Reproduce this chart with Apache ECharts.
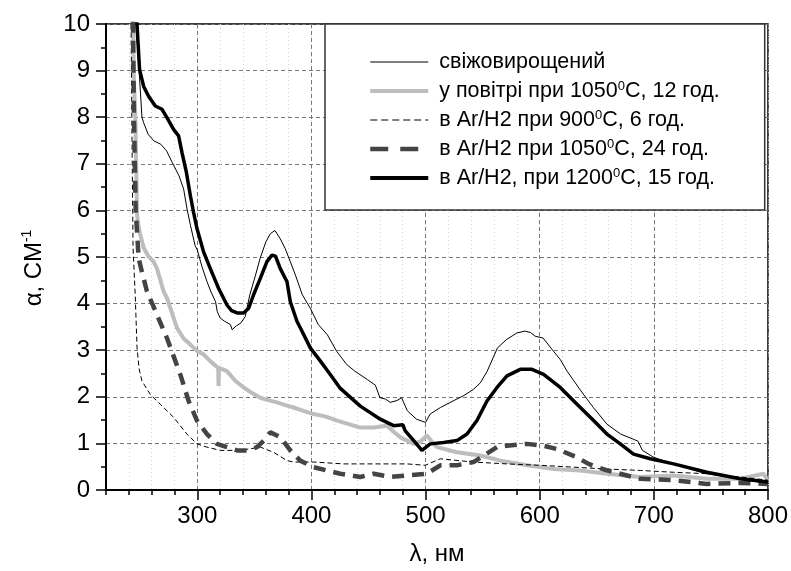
<!DOCTYPE html>
<html>
<head>
<meta charset="utf-8">
<script src="https://cdn.jsdelivr.net/npm/echarts@6/dist/echarts.min.js"></script>
<style>
html,body{margin:0;padding:0;background:#fff;}
#chart{width:791px;height:571px;}
</style>
</head>
<body>
<div id="chart"></div>
<script>
// ---- data ----
const seriesNames = [
  'свіжовирощений',
  'у повітрі при 1050°C, 12 год.',
  'в Ar/H2 при 900°C, 6 год.',
  'в Ar/H2 при 1050°C, 24 год.',
  'в Ar/H2, при 1200°C, 15 год.'
];
const legendRich = [
  '{g|}{t|свіжовирощений}',
  '{g|}{t|у повітрі при 1050}{s|0}{t|C, 12 год.}',
  '{g|}{t|в Ar/H2 при 900}{s|0}{t|C, 6 год.}',
  '{g|}{t|в Ar/H2 при 1050}{s|0}{t|C, 24 год.}',
  '{g|}{t|в Ar/H2, при 1200}{s|0}{t|C, 15 год.}'
];
const xMajorTicks = [300, 400, 500, 600, 700, 800];

const freshX = [245, 249, 251.5, 253, 257, 262, 268, 273, 278, 284, 288, 291, 294, 298, 300, 304, 308.5, 312, 316, 317.5, 320, 324, 329, 330.5, 334, 338, 342, 346, 351, 355, 360, 364, 368, 372.7, 377, 381.5, 386, 392, 399, 406, 414, 422, 431, 438, 449, 456, 460, 465, 469, 475, 479, 484, 492, 500, 504, 513, 524, 533, 542, 548, 554, 563, 571, 580, 587, 592, 596, 603, 612, 618, 624, 636, 647, 659, 671, 682, 686, 690, 700, 717, 732, 746, 760, 776, 790, 800];
const freshY = [10.5, 9.0, 8.0, 7.88, 7.63, 7.49, 7.42, 7.28, 7.03, 6.74, 6.46, 6.03, 5.68, 5.25, 5.15, 4.8, 4.47, 4.25, 4.04, 3.83, 3.69, 3.62, 3.55, 3.44, 3.52, 3.58, 3.72, 4.19, 4.61, 4.97, 5.32, 5.5, 5.57, 5.39, 5.18, 4.9, 4.61, 4.19, 3.9, 3.55, 3.33, 2.98, 2.69, 2.55, 2.37, 2.25, 1.98, 1.95, 1.88, 1.92, 1.98, 1.70, 1.52, 1.45, 1.63, 1.77, 1.91, 2.02, 2.16, 2.3, 2.55, 3.05, 3.23, 3.37, 3.41, 3.38, 3.30, 3.26, 2.98, 2.8, 2.55, 2.13, 1.77, 1.41, 1.2, 1.09, 1.05, 0.85, 0.7, 0.56, 0.45, 0.35, 0.3, 0.24, 0.18, 0.13];

const airX = [243.8, 244.2, 245.7, 246.5, 247.2, 249.4, 253, 257, 261.7, 264.7, 270.5, 273.4, 282.2, 288, 293.9, 300, 305.5, 312, 318.3, 318.6, 319, 326, 333, 340.6, 348, 355.2, 362, 369.8, 377, 384.4, 393, 401.9, 412, 422.4, 432, 442.8, 454.5, 466.2, 472, 478, 489.5, 496, 501.2, 505, 510, 527.5, 548, 565.5, 588.8, 612.2, 635.5, 658.9, 688.1, 717.3, 746.5, 775.7, 796.1, 800];
const airY = [10.5, 9.0, 7.95, 6.89, 5.89, 5.54, 5.2, 5.02, 4.90, 4.75, 4.26, 4.12, 3.48, 3.25, 3.12, 2.98, 2.91, 2.75, 2.62, 2.23, 2.62, 2.55, 2.35, 2.20, 2.08, 1.98, 1.93, 1.88, 1.82, 1.77, 1.70, 1.63, 1.58, 1.49, 1.42, 1.34, 1.34, 1.38, 1.25, 1.13, 0.99, 1.05, 1.17, 1.05, 0.92, 0.81, 0.74, 0.63, 0.53, 0.45, 0.42, 0.35, 0.28, 0.31, 0.24, 0.24, 0.35, 0.2];

const ar900X = [241.8, 242.8, 243.7, 245.7, 247.2, 249, 251.5, 258.8, 267.6, 279.2, 290.9, 299.7, 308.5, 320.1, 337.7, 355.2, 366.8, 378.6, 384.4, 401.9, 428.2, 454.5, 483.7, 499.7, 512.9, 542, 571.3, 600.5, 629.7, 658.9, 688.1, 717.3, 746.5, 775.7, 800];
const ar900Y = [10.5, 7.5, 5.2, 4.12, 3.05, 2.6, 2.34, 2.05, 1.84, 1.56, 1.20, 0.99, 0.92, 0.85, 0.85, 0.92, 0.81, 0.63, 0.6, 0.6, 0.56, 0.56, 0.56, 0.53, 0.67, 0.60, 0.56, 0.53, 0.49, 0.45, 0.42, 0.38, 0.35, 0.28, 0.21];

const ar1050X = [243.5, 244.5, 246, 248.6, 251.5, 255.9, 264.7, 273.4, 285.1, 292.4, 299.7, 308.5, 317.2, 326, 334.8, 343.6, 352.3, 359.6, 364, 372.7, 381.5, 390.2, 401.9, 425.3, 442.8, 454.5, 469.1, 483.7, 501.2, 512.9, 527.5, 542, 562.6, 571.3, 588.8, 603.4, 615.1, 632.7, 642.8, 658.9, 688.1, 717.3, 746.5, 775.7, 800];
const ar1050Y = [10.5, 8, 6, 4.97, 4.68, 4.26, 3.76, 3.26, 2.48, 1.91, 1.49, 1.20, 0.99, 0.92, 0.85, 0.85, 0.92, 1.09, 1.24, 1.13, 0.85, 0.63, 0.49, 0.35, 0.28, 0.35, 0.28, 0.31, 0.35, 0.53, 0.53, 0.6, 0.92, 0.95, 0.99, 0.95, 0.88, 0.70, 0.56, 0.42, 0.24, 0.21, 0.13, 0.15, 0.13];

const ar1200X = [246, 249.4, 253, 257.3, 263.2, 269.1, 273.4, 279.2, 283.6, 286.6, 290.4, 293.9, 296.7, 299.7, 305.5, 311.4, 318.6, 326, 330, 334.8, 340.6, 345, 349.3, 355.2, 361, 365.4, 368.5, 372.7, 378.6, 381.5, 387.3, 390.2, 399, 407.7, 416.5, 425.3, 442.8, 460.3, 472, 480, 482.2, 490, 496.8, 504.1, 515.8, 527.5, 536.3, 545, 553.8, 562.6, 571.3, 583, 593.2, 603.4, 618, 632.7, 647.2, 658.9, 670.6, 682.2, 696.9, 717.3, 746.5, 775.7, 800];
const ar1200Y = [10.5, 9.02, 8.66, 8.45, 8.24, 8.17, 7.99, 7.74, 7.60, 7.24, 6.82, 6.32, 5.96, 5.61, 5.11, 4.75, 4.33, 3.97, 3.85, 3.80, 3.80, 3.90, 4.19, 4.54, 4.90, 5.04, 5.02, 4.75, 4.47, 4.04, 3.62, 3.48, 3.05, 2.77, 2.48, 2.18, 1.80, 1.52, 1.38, 1.40, 1.27, 1.05, 0.85, 0.99, 1.02, 1.06, 1.20, 1.49, 1.91, 2.20, 2.45, 2.59, 2.59, 2.48, 2.20, 1.84, 1.49, 1.20, 0.99, 0.77, 0.67, 0.56, 0.38, 0.24, 0.17];

function pairs(xs, ys) { return xs.map((x, i) => [x, ys[i]]); }

const FONT = "'Liberation Sans', Arial, sans-serif";
const styles = [
  {color: '#000', width: 1, type: 'solid'},
  {color: '#bdbdbd', width: 4, type: 'solid'},
  {color: '#000', width: 1, type: [5, 3]},
  {color: '#444', width: 4.5, type: [12, 8]},
  {color: '#000', width: 3.5, type: 'solid'}
];
const legendTypes = ['solid', 'solid', [7, 4], [18, 12], 'solid'];
const legendWidths = [1, 4, 1, 4.5, 4];

const chart = echarts.init(document.getElementById('chart'), null, {renderer: 'canvas'});

const option = {
  backgroundColor: '#fff',
  animation: false,
  textStyle: {fontFamily: FONT},
  grid: {left: 106, right: 23, top: 24, bottom: 78, show: true, borderColor: '#000', borderWidth: 1.5, backgroundColor: 'transparent'},
  legend: {
    orient: 'vertical',
    left: 325, top: 24,
    padding: [27, 45, 21, 43],
    itemGap: 7,
    itemWidth: 58, itemHeight: 16,
    backgroundColor: '#fff',
    borderColor: '#333', borderWidth: 1.5,
    itemStyle: {opacity: 0},
    data: seriesNames.map((n, i) => ({
      name: n,
      itemStyle: {opacity: 0},
      lineStyle: {width: legendWidths[i], type: legendTypes[i], color: styles[i].color}
    })),
    formatter: function (name) { return legendRich[seriesNames.indexOf(name)]; },
    textStyle: {
      fontFamily: FONT, color: '#000',
      rich: {
        g: {width: 6, fontSize: 21.5, lineHeight: 22},
        t: {fontSize: 21.5, fontFamily: FONT, color: '#000', lineHeight: 22},
        s: {fontSize: 13, fontFamily: FONT, color: '#000', verticalAlign: 'top', lineHeight: 22}
      }
    }
  },
  xAxis: [
    {
      type: 'value', min: 220, max: 800, interval: 20, position: 'bottom',
      axisLine: {show: true, lineStyle: {color: '#000', width: 2}},
      axisTick: {show: true, inside: false, length: 5, lineStyle: {color: '#000', width: 1.5}},
      axisLabel: {show: false},
      splitLine: {show: true, lineStyle: {color: '#d4d4d4', type: [1, 3], width: 1}}
    },
    {
      type: 'value', min: 220, max: 800, position: 'bottom',
      axisLine: {show: false},
      axisTick: {show: true, inside: false, length: 10, customValues: xMajorTicks, lineStyle: {color: '#000', width: 1.5}},
      axisLabel: {show: true, customValues: xMajorTicks, fontSize: 24, color: '#000', fontFamily: FONT, margin: 14},
      splitLine: {show: true, lineStyle: {color: '#777', type: [4, 3], width: 1}},
      name: 'λ, нм', nameLocation: 'middle', nameGap: 52,
      nameTextStyle: {fontSize: 24, color: '#000', fontFamily: FONT}
    }
  ],
  yAxis: {
    type: 'value', min: 0, max: 10, interval: 1,
    axisLine: {show: true, lineStyle: {color: '#000', width: 2}},
    axisTick: {show: true, inside: false, length: 10, lineStyle: {color: '#000', width: 1.5}},
    minorTick: {show: true, splitNumber: 2, length: 5, lineStyle: {color: '#000', width: 1.5}},
    axisLabel: {fontSize: 24, color: '#000', fontFamily: FONT, margin: 16},
    splitLine: {show: true, lineStyle: {color: '#777', type: [4, 3], width: 1}}
  },
  graphic: [{
    type: 'text', x: 34, y: 268, rotation: Math.PI / 2,
    style: {
      text: '{a|α, СМ}{s|-1}', align: 'center', verticalAlign: 'middle',
      rich: {
        a: {fontSize: 24, fontFamily: FONT, fill: '#000', lineHeight: 28},
        s: {fontSize: 14, fontFamily: FONT, fill: '#000', verticalAlign: 'top', lineHeight: 28}
      }
    }
  }],
  series: seriesNames.map((n, i) => ({
    name: n, type: 'line', xAxisIndex: 0,
    data: [pairs(freshX, freshY), pairs(airX, airY), pairs(ar900X, ar900Y), pairs(ar1050X, ar1050Y), pairs(ar1200X, ar1200Y)][i],
    showSymbol: false, symbol: 'none', z: [3, 2, 3, 3, 4][i],
    lineStyle: {color: styles[i].color, width: styles[i].width, type: styles[i].type},
    itemStyle: {color: styles[i].color}
  }))
};
chart.setOption(option);
</script>
</body>
</html>
